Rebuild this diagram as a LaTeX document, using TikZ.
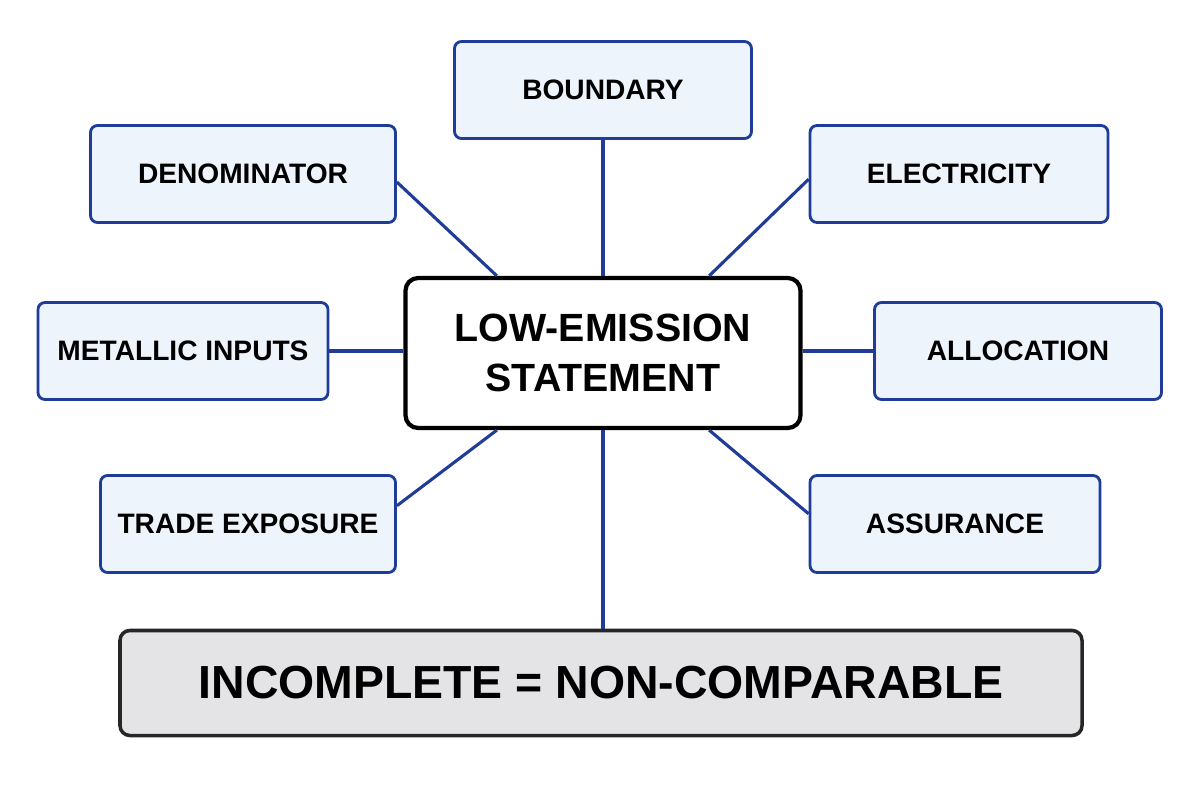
\documentclass[tikz,border=0pt]{standalone}
\usepackage{fontspec}
\setmainfont{Liberation Sans}
\definecolor{edgeblue}{HTML}{1F3C98}
\definecolor{boxfill}{HTML}{EEF4FC}
\definecolor{barfill}{HTML}{E4E4E7}
\begin{document}
\begin{tikzpicture}[x=0.025cm, y=-0.025cm]
% Define the node styles
\tikzstyle{topic} = [draw=edgeblue, fill=boxfill, rounded corners=5pt, line width=2pt, minimum height=97*0.025cm, font=\fontsize{20}{24}\selectfont\bfseries]
\tikzstyle{hub} = [draw=black, fill=white, rounded corners=9pt, line width=3pt, minimum width=395*0.025cm, minimum height=150*0.025cm, align=center, font=\fontsize{28}{36}\selectfont\bfseries]
\tikzstyle{verdict} = [draw=black!85, fill=barfill, rounded corners=7pt, line width=2.5pt, minimum width=962*0.025cm, minimum height=105*0.025cm, font=\fontsize{33}{40}\selectfont\bfseries]
\tikzstyle{spoke} = [draw=edgeblue, line width=2.2pt]

\useasboundingbox (0,0) rectangle (1200,800);

% Define the nodes
\node[hub] (stmt) at (603,353) {LOW-EMISSION\\STATEMENT};
\node[topic, minimum width=297*0.025cm] (bound) at (603,90) {BOUNDARY};
\node[topic, minimum width=305*0.025cm] (denom) at (243,174) {DENOMINATOR};
\node[topic, minimum width=298*0.025cm] (elec) at (959,174) {ELECTRICITY};
\node[topic, minimum width=290*0.025cm] (metal) at (183,351) {METALLIC INPUTS};
\node[topic, minimum width=287*0.025cm] (alloc) at (1018,351) {ALLOCATION};
\node[topic, minimum width=295*0.025cm] (trade) at (248,524) {TRADE EXPOSURE};
\node[topic, minimum width=290*0.025cm] (assur) at (955,524) {ASSURANCE};
\node[verdict] (verd) at (601,683) {INCOMPLETE = NON-COMPARABLE};

% Define the spokes
\draw[spoke] (stmt) -- (bound);
\draw[spoke] (stmt.144) -- (denom.-3);
\draw[spoke] (stmt.36) -- (elec.182);
\draw[spoke] (metal) -- (metal -| stmt.west);
\draw[spoke] (alloc) -- (alloc -| stmt.east);
\draw[spoke] (stmt.-144) -- (trade.7);
\draw[spoke] (stmt.-36) -- (assur.176);
\draw[spoke] (stmt) -- (verd.north -| stmt);

\end{tikzpicture}
\end{document}
